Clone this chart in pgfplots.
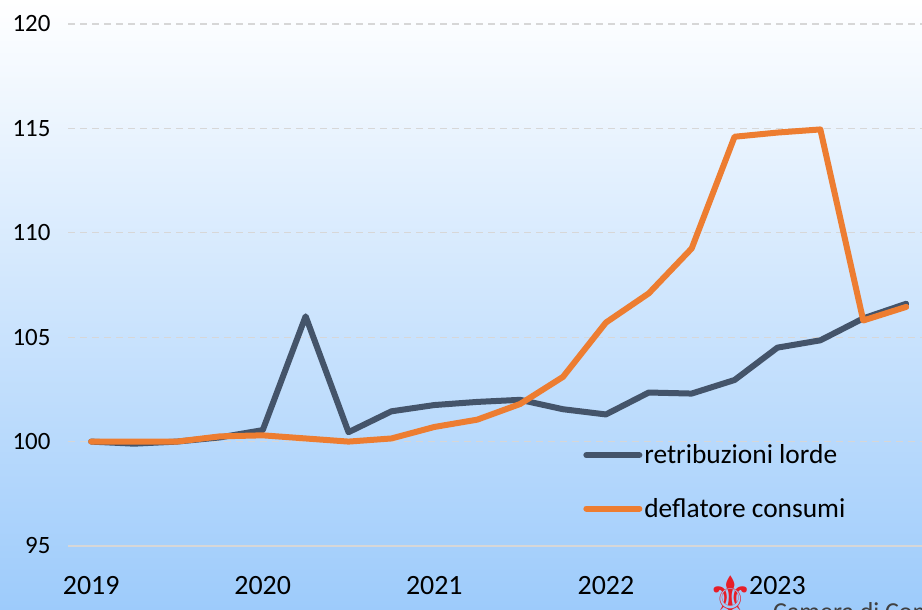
\documentclass[border=0pt]{standalone}
\usepackage{fontspec}
\setmainfont{Carlito}
\newfontfamily\dejavu{DejaVu Sans}
\usepackage{pgfplots}
\pgfplotsset{compat=1.18}
\definecolor{darkline}{RGB}{68,84,106}
\definecolor{orangeline}{RGB}{237,125,49}
\definecolor{bgbottom}{RGB}{157,203,251}
\definecolor{gridc}{RGB}{215,215,215}
\definecolor{logored}{RGB}{230,30,40}
\begin{document}
\begin{tikzpicture}[x=1bp,y=1bp]
\useasboundingbox (0,0) rectangle (922,610);
\clip (0,0) rectangle (922,610);
\shade[top color=white, bottom color=bgbottom] (0,0) rectangle (922,610);
\begin{axis}[
  at={(68bp,64bp)}, anchor=south west, scale only axis,
  width=854bp, height=522bp,
  xmin=-0.54, xmax=19.37, ymin=95, ymax=120,
  axis line style={draw=none}, tick style={draw=none},
  xtick={0,4,8,12,16}, xticklabels={2019,2020,2021,2022,2023},
  ytick={100,105,110,115,120},
  extra y ticks={95},
  extra y tick style={grid=major, major grid style={solid, gridc, line width=1.5bp}},
  ymajorgrids, major grid style={dashed, gridc, line width=1.2bp, dash pattern=on 7bp off 5bp},
  /pgf/number format/assume math mode=true,
  yticklabel style={font=\fontsize{25}{25}\selectfont, xshift=-14bp},
  xticklabel style={font=\fontsize{28}{28}\selectfont, yshift=-27bp},
  legend style={at={(axis cs:11.47,99.95)}, anchor=north west, draw=none, fill=none,
    font=\fontsize{27.5}{27.5}\selectfont, row sep=29bp, inner sep=0pt, nodes={inner sep=2bp}},
  legend image code/.code={\draw[#1, line width=6bp, line cap=round] (0bp,0bp) -- (53bp,0bp);},
  legend cell align=left,
  clip=false,
]
\addplot[darkline, line width=6bp, line cap=round, line join=round] coordinates {
(0,100.0) (1,99.9) (2,100.0) (3,100.2) (4,100.55) (5,106.0) (6,100.45) (7,101.45)
(8,101.75) (9,101.9) (10,102.0) (11,101.55) (12,101.3) (13,102.35) (14,102.3)
(15,102.95) (16,104.5) (17,104.85) (18,105.9) (19,106.6)};
\addlegendentry{retribuzioni lorde}
\addplot[orangeline, line width=6bp, line cap=round, line join=round] coordinates {
(0,100.0) (1,100.0) (2,100.0) (3,100.25) (4,100.3) (5,100.15) (6,100.0) (7,100.15)
(8,100.7) (9,101.05) (10,101.8) (11,103.1) (12,105.7) (13,107.1) (14,109.25)
(15,114.6) (16,114.8) (17,114.95) (18,105.8) (19,106.45)};
\addlegendentry{deflatore consumi}
\end{axis}
\node[anchor=north, text=logored, font=\dejavu\fontsize{52}{52}\selectfont, inner sep=0] at (731,34) {⚜};
\node[anchor=north west, text=black!75, font=\fontsize{26}{26}\selectfont, inner sep=0] at (773,8) {Camera di Commercio};
\end{tikzpicture}
\end{document}
